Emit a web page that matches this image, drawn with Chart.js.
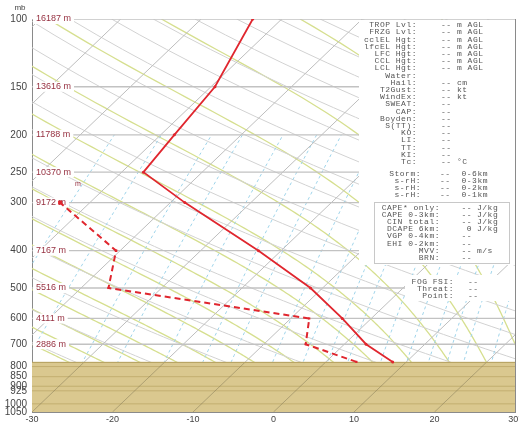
<!DOCTYPE html>
<html>
<head>
<meta charset="utf-8">
<script src="https://cdn.jsdelivr.net/npm/chart.js@4.4.1/dist/chart.umd.min.js"></script>
<style>
html, body { margin: 0; padding: 0; background: #fff; overflow: hidden; }
#wrap { width: 519px; height: 423px; }
</style>
</head>
<body>
<div id="wrap"><canvas id="skewt" width="519" height="423"></canvas></div>
<script>
// sounding (pressure mb, temperature / dewpoint in C)
const P_TEMP = [778, 700, 600, 500, 400, 300, 250, 200, 150, 100];
const TEMP_C = [8.3, 2.7, -3.6, -11.5, -22.8, -38.2, -47.3, -48.3, -49.5, -53.6];
const P_DEW = [778, 700, 600, 500, 400, 300];
const DEW_C = [3.8, -4.8, -7.7, -36.6, -40.5, -53.7];

const P_LEVELS = [100, 150, 200, 250, 300, 400, 500, 600, 700, 800, 850, 900, 925, 1000, 1050];
const HGT_LEVELS = [100, 150, 200, 250, 300, 400, 500, 600, 700];
const HGT_M = [16187, 13616, 11788, 10370, 9172, 7167, 5516, 4111, 2886];
const T_TICKS = [-30, -20, -10, 0, 10, 20, 30];
const SFC_P = 778;

// background lines of the diagram
const ISOTHERMS = [-120, -110, -100, -90, -80, -70, -60, -50, -40, -30, -20, -10, 0, 10, 20, 30];
const THETAS = [240, 250, 260, 270, 280, 290, 300, 310, 320, 330, 340, 350, 360, 370, 380, 390, 400, 410, 420, 430, 440, 450, 460, 470, 480, 490, 500];
const THETA_W = [-16, -12, -8, -4, 0, 4, 8, 12, 16, 20, 24, 28, 32, 36, 40];
const MIX_RATIOS = [0.1, 0.2, 0.4, 0.6, 1, 1.5, 2, 3, 4, 5, 6, 8, 10, 12, 14, 16, 20, 24, 28];

// index panel
const IDX_TOP = [
    ['TROP Lvl:', '--', 'm AGL'], ['FRZG Lvl:', '--', 'm AGL'], ['cclEL Hgt:', '--', 'm AGL'],
    ['lfcEL Hgt:', '--', 'm AGL'], ['LFC Hgt:', '--', 'm AGL'], ['CCL Hgt:', '--', 'm AGL'],
    ['LCL Hgt:', '--', 'm AGL'], ['Water:', '', ''], ['Hail:', '--', 'cm'], ['T2Gust:', '--', 'kt'],
    ['WindEx:', '--', 'kt'], ['SWEAT:', '--', ''], ['CAP:', '--', ''], ['Boyden:', '--', ''],
    ['S(TT):', '--', ''], ['KO:', '--', ''], ['LI:', '--', ''], ['TT:', '--', ''], ['KI:', '--', ''],
    ['Tc:', '--', '°C']
];
const IDX_STORM = [['Storm:', '--', '0-6km'], ['s-rH:', '--', '0-3km'], ['s-rH:', '--', '0-2km'], ['s-rH:', '--', '0-1km']];
const IDX_CAPE = [
    ['CAPE* only:', '--', 'J/kg'], ['CAPE 0-3km:', '--', 'J/kg'], ['CIN total:', '--', 'J/kg'],
    ['DCAPE 6km:', '0', 'J/kg'], ['VGP 0-4km:', '--', ''], ['EHI 0-2km:', '--', ''],
    ['MVV:', '--', 'm/s'], ['BRN:', '--', '']
];
const IDX_FOG = [['FOG FSI:', '--'], ['Threat:', '--'], ['Point:', '--']];

const SKEW = 21.7;
const P_REF = 1050;
const skx = (t, p) => t + SKEW * Math.log(P_REF / p);

function satMix(p, tc) {
    const es = 6.112 * Math.exp(17.67 * tc / (tc + 243.5));
    return 0.622 * es / (p - es);
}

function moistDT(p, tc) {
    const T = tc + 273.15, rs = satMix(p, tc);
    const Lv = 2.501e6, Rd = 287.04, cp = 1005.7;
    return ((Rd * T + Lv * rs) / p) / (cp + (Lv * Lv * rs * 0.622) / (Rd * T * T));
}

function moistLine(tw) {
    const up = [[1000, tw]];
    let t = tw, p = 1000;
    while (p > 100) {
        const dp = -5;
        const k1 = moistDT(p, t);
        const k2 = moistDT(p + dp / 2, t + k1 * dp / 2);
        t += k2 * dp; p += dp;
        up.push([p, t]);
    }
    const down = [];
    t = tw; p = 1000;
    while (p < 1050) {
        const dp = 5;
        const k1 = moistDT(p, t);
        const k2 = moistDT(p + dp / 2, t + k1 * dp / 2);
        t += k2 * dp; p += dp;
        down.push([p, t]);
    }
    return down.reverse().concat(up);
}

function mixLine(w) {
    const pts = [];
    for (let p = 1050; p >= 200; p -= 25) {
        const e = (w / 1000) * p / (0.622 + w / 1000);
        const l = Math.log(e / 6.112);
        pts.push([p, 243.5 * l / (17.67 - l)]);
    }
    return pts;
}

function stroke(ctx, pts) {
    ctx.beginPath();
    pts.forEach(([px, py], i) => i ? ctx.lineTo(px, py) : ctx.moveTo(px, py));
    ctx.stroke();
}

const skewtBg = {
    id: 'skewtBg',
    beforeDatasetsDraw(chart) {
        const { ctx, chartArea: a, scales: { x, y } } = chart;
        const X = (t, p) => x.getPixelForValue(skx(t, p));
        const Y = p => y.getPixelForValue(p);
        const sfcY = Y(SFC_P);

        ctx.save();
        ctx.beginPath();
        ctx.rect(a.left, a.top, a.right - a.left, a.bottom - a.top);
        ctx.clip();

        // moist adiabats
        ctx.strokeStyle = '#d6df8f';
        ctx.lineWidth = 1.3;
        THETA_W.forEach(tw => stroke(ctx, moistLine(tw).map(([p, t]) => [X(t, p), Y(p)])));

        // dry adiabats
        ctx.strokeStyle = '#d2d2d2';
        ctx.lineWidth = 1;
        THETAS.forEach(th => {
            const pts = [];
            for (let p = 1050; p >= 100; p -= 10) pts.push([X(th * Math.pow(p / 1000, 0.2857) - 273.15, p), Y(p)]);
            stroke(ctx, pts);
        });

        // mixing ratio lines
        ctx.strokeStyle = '#9fd4ea';
        ctx.setLineDash([3, 3]);
        MIX_RATIOS.forEach(w => stroke(ctx, mixLine(w).map(([p, t]) => [X(t, p), Y(p)])));
        ctx.setLineDash([]);

        // isotherms
        ctx.strokeStyle = '#bebebe';
        ISOTHERMS.forEach(t => stroke(ctx, [[X(t, 1050), Y(1050)], [X(t, 100), Y(100)]]));

        // isobars
        ctx.strokeStyle = '#c2c2c2';
        ctx.lineWidth = 1.3;
        P_LEVELS.filter(p => p < SFC_P).forEach(p => stroke(ctx, [[a.left, Y(p)], [a.right, Y(p)]]));

        // below ground
        ctx.fillStyle = '#dac88f';
        ctx.fillRect(a.left, sfcY, a.right - a.left, a.bottom - sfcY);
        ctx.strokeStyle = '#c3ae70';
        ctx.lineWidth = 1;
        P_LEVELS.filter(p => p > SFC_P && p < 1050).forEach(p => stroke(ctx, [[a.left, Y(p)], [a.right, Y(p)]]));
        ctx.beginPath();
        ctx.rect(a.left, sfcY, a.right - a.left, a.bottom - sfcY);
        ctx.clip();
        ctx.strokeStyle = 'rgba(120,110,80,0.45)';
        ISOTHERMS.forEach(t => stroke(ctx, [[X(t, 1050), Y(1050)], [X(t, 100), Y(100)]]));
        ctx.restore();

        ctx.save();
        ctx.strokeStyle = '#b4a060';
        ctx.lineWidth = 1;
        stroke(ctx, [[a.left, sfcY + 0.5], [a.right, sfcY + 0.5]]);

        // heights on the isobars
        ctx.font = '9px "Liberation Sans"';
        ctx.textBaseline = 'middle';
        HGT_LEVELS.forEach((p, i) => {
            const txt = HGT_M[i] + ' m';
            const w = ctx.measureText(txt).width;
            ctx.fillStyle = '#fff';
            ctx.fillRect(a.left + 1, Y(p) - 5, w + 6, 10);
            ctx.fillStyle = '#963040';
            ctx.fillText(txt, a.left + 4, Y(p));
        });
        ctx.font = '7px "Liberation Sans"';
        ctx.fillText('m', 75, 184);

        // index panel
        ctx.fillStyle = '#fff';
        ctx.fillRect(359, a.top + 1, a.right - 359, 264 - a.top);
        ctx.fillRect(405, 275, a.right - 405, 26);
        ctx.strokeStyle = '#c8c8c8';
        ctx.strokeRect(374.5, 202.5, 135, 61);

        ctx.font = '8px "Liberation Mono"';
        ctx.letterSpacing = '0.5px';
        ctx.fillStyle = '#555';
        IDX_TOP.forEach(([l, v, u], i) => {
            const ty = 25 + i * 7.21;
            ctx.textAlign = 'right'; ctx.fillText(l, 417, ty);
            ctx.textAlign = 'left'; ctx.fillText(v, 441, ty); ctx.fillText(u, 457, ty);
        });
        [174, 181, 188, 194.5].forEach((ty, i) => {
            const [l, v, u] = IDX_STORM[i];
            ctx.textAlign = 'right'; ctx.fillText(l, 421, ty); ctx.fillText(u, 488, ty);
            ctx.textAlign = 'left'; ctx.fillText(v, 440, ty);
        });
        IDX_CAPE.forEach(([l, v, u], i) => {
            const ty = 207.5 + i * 7.2;
            ctx.textAlign = 'right'; ctx.fillText(l, 440, ty); ctx.fillText(v, 472, ty);
            ctx.textAlign = 'left'; ctx.fillText(u, 477, ty);
        });
        IDX_FOG.forEach(([l, v], i) => {
            const ty = 281.5 + i * 7;
            ctx.textAlign = 'right'; ctx.fillText(l, 454, ty);
            ctx.textAlign = 'left'; ctx.fillText(v, 468, ty);
        });
        ctx.letterSpacing = '0px';

        // right frame and unit label
        ctx.strokeStyle = '#8a8a8a';
        stroke(ctx, [[a.right + 0.5, a.top], [a.right + 0.5, a.bottom]]);
        ctx.font = '8px "Liberation Sans"';
        ctx.fillStyle = '#444';
        ctx.textAlign = 'center';
        ctx.fillText('mb', 20, 8);
        ctx.restore();
    }
};

new Chart(document.getElementById('skewt'), {
    type: 'scatter',
    data: {
        datasets: [{
            label: 'Temperature',
            data: P_TEMP.map((p, i) => ({ x: skx(TEMP_C[i], p), y: p })),
            showLine: true,
            borderColor: '#e0262e',
            backgroundColor: '#e0262e',
            borderWidth: 1.8,
            pointRadius: 1.5,
            pointBorderWidth: 0
        }, {
            label: 'Dewpoint',
            data: P_DEW.map((p, i) => ({ x: skx(DEW_C[i], p), y: p })),
            showLine: true,
            borderColor: '#e0262e',
            backgroundColor: '#e0262e',
            borderWidth: 2,
            borderDash: [6, 4],
            pointStyle: 'rect',
            pointRadius: [1.5, 1.5, 1.5, 1.5, 1.8, 2.8],
            pointBorderWidth: 0
        }]
    },
    options: {
        responsive: false,
        animation: false,
        devicePixelRatio: 1,
        layout: { padding: { top: 19, right: 3, left: 0, bottom: 0 } },
        plugins: { legend: { display: false }, tooltip: { enabled: false } },
        scales: {
            x: {
                type: 'linear', min: -30, max: 30,
                grid: { display: false, drawTicks: false },
                border: { color: '#8a8a8a' },
                afterBuildTicks(s) { s.ticks = T_TICKS.map(v => ({ value: v })); },
                ticks: {
                    font: { family: 'Liberation Sans', size: 9 }, color: '#444', padding: 2, maxRotation: 0,
                    callback: v => v === 30 ? '30°' : String(v)
                },
                afterFit(s) { s.height = 11; s.paddingLeft = 0; s.paddingRight = 0; }
            },
            y: {
                type: 'logarithmic', reverse: true, min: 100, max: 1050,
                grid: { display: false, drawTicks: false },
                border: { color: '#8a8a8a' },
                afterBuildTicks(s) { s.ticks = P_LEVELS.map(v => ({ value: v })); },
                ticks: {
                    autoSkip: false, font: { family: 'Liberation Sans', size: 10 }, color: '#444', padding: 5,
                    callback: v => String(v)
                },
                afterFit(s) { s.width = 32; s.paddingTop = 0; s.paddingBottom = 0; }
            }
        }
    },
    plugins: [skewtBg]
});
</script>
</body>
</html>
